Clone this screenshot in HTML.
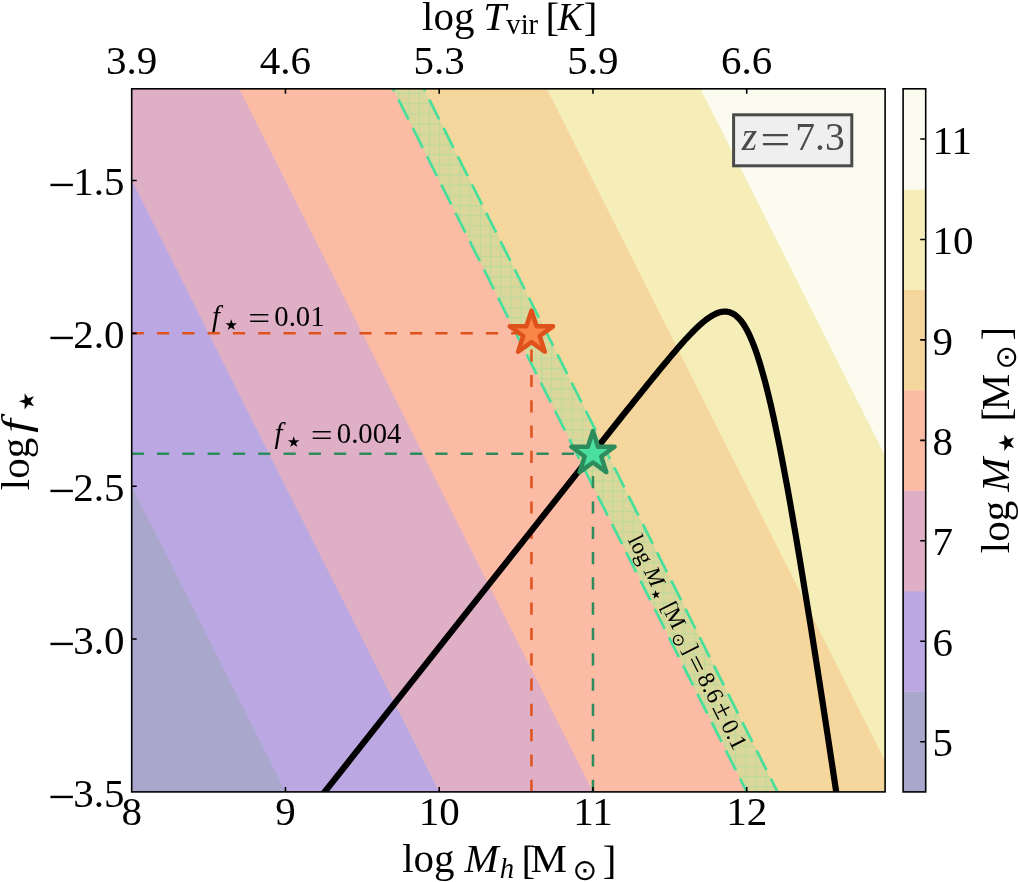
<!DOCTYPE html>
<html lang="en"><head><meta charset="utf-8"><title>Stellar mass plane</title>
<style>html,body{margin:0;padding:0;background:#fff}svg{display:block}text{font-family:"Liberation Serif","DejaVu Serif",serif;fill:#000;font-size:41px}.i{font-style:italic}.sym{font-family:"DejaVu Sans",sans-serif}.an{font-size:28.7px}.bt{font-size:23px}</style></head><body>
<svg width="1018" height="882" viewBox="0 0 1018 882">
<defs><clipPath id="ax"><rect x="131.7" y="88.8" width="753.40" height="703.10"/></clipPath>
<pattern id="hatch" patternUnits="userSpaceOnUse" x="408.4" y="102.9" width="10.2" height="10.2"><path d="M0 0.5H10.2M0.5 0V10.2" stroke="#48de9b" stroke-width="1.1" fill="none" opacity="0.22"/></pattern>
</defs>
<rect width="1018" height="882" fill="#fff"/>
<g clip-path="url(#ax)">
<rect x="131.7" y="88.8" width="753.40" height="703.10" fill="#fbfbef"/>
<polygon fill="#f5eeb9" points="669.84,27.66 1084.98,853.04 -175.81,853.04 -175.81,27.66"/>
<polygon fill="#f5d69c" points="516.09,27.66 931.23,853.04 -175.81,853.04 -175.81,27.66"/>
<polygon fill="#fbbba5" points="362.33,27.66 777.47,853.04 -175.81,853.04 -175.81,27.66"/>
<polygon fill="#dfafc6" points="208.58,27.66 623.72,853.04 -175.81,853.04 -175.81,27.66"/>
<polygon fill="#bba8e3" points="54.82,27.66 469.96,853.04 -175.81,853.04 -175.81,27.66"/>
<polygon fill="#a9a7cc" points="-98.93,27.66 316.21,853.04 -175.81,853.04 -175.81,27.66"/>
<polygon fill="#48de9b" fill-opacity="0.15" points="362.33,27.66 393.08,27.66 808.22,853.04 777.47,853.04"/>
<polygon fill="url(#hatch)" points="362.33,27.66 393.08,27.66 808.22,853.04 777.47,853.04"/>
<path d="M370.10 43.10L777.47 853.04" stroke="#48de9b" stroke-width="2.7" fill="none" stroke-dasharray="22.16 9.51"/>
<path d="M400.85 43.10L808.22 853.04" stroke="#48de9b" stroke-width="2.7" fill="none" stroke-dasharray="22.16 9.51"/>
<path d="M131.7 333.36H531.46" stroke="#e0521b" stroke-width="2.5" stroke-dasharray="12.2 13.1" fill="none"/>
<path d="M531.46 791.9V333.36" stroke="#e0521b" stroke-width="2.5" stroke-dasharray="12.2 13.1" fill="none"/>
<path d="M131.7 453.80H592.97" stroke="#2c8c5c" stroke-width="2.5" stroke-dasharray="12.2 13.1" fill="none"/>
<path d="M592.97 791.9V453.80" stroke="#2c8c5c" stroke-width="2.5" stroke-dasharray="12.2 13.1" fill="none"/>
<path d="M300.8 822.0L347.0 763.7L393.1 705.4L439.2 647.1L485.3 588.9L531.5 530.6L577.6 472.4L623.7 414.3L631.4 404.7L634.1 401.3L636.9 397.9L639.6 394.5L642.3 391.1L645.1 387.7L647.8 384.3L650.6 380.9L653.3 377.5L656.0 374.2L658.8 370.8L661.5 367.5L664.2 364.2L667.0 360.9L669.7 357.6L672.4 354.4L675.2 351.2L677.9 348.0L680.7 344.9L683.4 341.8L686.1 338.8L688.9 335.9L691.6 333.0L694.3 330.3L697.1 327.6L699.8 325.0L702.5 322.6L705.3 320.4L708.0 318.3L710.8 316.5L713.5 314.9L716.2 313.5L719.0 312.5L721.7 311.8L724.4 311.5L727.2 311.7L729.9 312.3L732.6 313.5L735.4 315.2L738.1 317.6L740.9 320.6L743.6 324.4L746.3 328.9L749.1 334.3L751.8 340.4L754.5 347.3L757.3 355.1L760.0 363.7L762.7 373.1L765.5 383.2L768.2 394.1L771.0 405.7L773.7 418.0L776.4 430.9L779.2 444.3L781.9 458.3L784.6 472.7L787.4 487.6L790.1 502.8L792.8 518.4L795.9 536.3L800.5 563.8L805.1 591.9L809.8 620.5L814.4 649.6L819.0 679.1L823.6 708.8L828.2 738.9L832.8 769.2L837.4 799.8L842.0 830.6L846.7 861.6" stroke="#000" stroke-width="6.2" fill="none" stroke-linejoin="round"/>
</g>
<polygon points="531.46,310.66 536.58,326.32 553.05,326.34 539.74,336.04 544.81,351.72 531.46,342.06 518.12,351.72 523.19,336.04 509.87,326.34 526.35,326.32" fill="#f98549" stroke="#e0521b" stroke-width="4.5" stroke-linejoin="round"/>
<polygon points="592.97,431.10 598.08,446.76 614.55,446.79 601.24,456.49 606.31,472.16 592.97,462.50 579.62,472.16 584.69,456.49 571.38,446.79 587.85,446.76" fill="#4ade9f" stroke="#2c8c5c" stroke-width="4.5" stroke-linejoin="round"/>
<rect x="131.7" y="88.8" width="753.40" height="703.10" fill="none" stroke="#000" stroke-width="1.6"/>
<path d="M285.46 791.9v-5M439.21 791.9v-5M592.97 791.9v-5M746.72 791.9v-5M131.7 639.05h5M131.7 486.20h5M131.7 333.36h5M131.7 180.51h5M285.46 88.8v5M439.21 88.8v5M592.97 88.8v5M746.72 88.8v5" stroke="#000" stroke-width="1.6" fill="none"/>
<text x="131.70" y="825" text-anchor="middle">8</text>
<text x="285.46" y="825" text-anchor="middle">9</text>
<text x="439.21" y="825" text-anchor="middle">10</text>
<text x="592.97" y="825" text-anchor="middle">11</text>
<text x="746.72" y="825" text-anchor="middle">12</text>
<text x="131.70" y="74.4" text-anchor="middle">3.9</text>
<text x="285.46" y="74.4" text-anchor="middle">4.6</text>
<text x="439.21" y="74.4" text-anchor="middle">5.3</text>
<text x="592.97" y="74.4" text-anchor="middle">5.9</text>
<text x="746.72" y="74.4" text-anchor="middle">6.6</text>
<text x="124.6" y="806.70" text-anchor="end">3.5</text><text x="47.9" y="812.50" style="font-size:48.4px">−</text>
<text x="124.6" y="653.85" text-anchor="end">3.0</text><text x="47.9" y="659.65" style="font-size:48.4px">−</text>
<text x="124.6" y="501.00" text-anchor="end">2.5</text><text x="47.9" y="506.80" style="font-size:48.4px">−</text>
<text x="124.6" y="348.16" text-anchor="end">2.0</text><text x="47.9" y="353.96" style="font-size:48.4px">−</text>
<text x="124.6" y="195.31" text-anchor="end">1.5</text><text x="47.9" y="201.11" style="font-size:48.4px">−</text>
<rect x="903.1" y="691.46" width="22.60" height="100.74" fill="#a9a7cc"/>
<rect x="903.1" y="591.01" width="22.60" height="100.74" fill="#bba8e3"/>
<rect x="903.1" y="490.57" width="22.60" height="100.74" fill="#dfafc6"/>
<rect x="903.1" y="390.13" width="22.60" height="100.74" fill="#fbbba5"/>
<rect x="903.1" y="289.69" width="22.60" height="100.74" fill="#f5d69c"/>
<rect x="903.1" y="189.24" width="22.60" height="100.74" fill="#f5eeb9"/>
<rect x="903.1" y="88.80" width="22.60" height="100.74" fill="#fbfbef"/>
<rect x="903.1" y="88.8" width="22.60" height="703.10" fill="none" stroke="#000" stroke-width="1.6"/>
<path d="M925.7 741.68h-5.5M925.7 641.24h-5.5M925.7 540.79h-5.5M925.7 440.35h-5.5M925.7 339.91h-5.5M925.7 239.46h-5.5M925.7 139.02h-5.5" stroke="#000" stroke-width="1.6" fill="none"/>
<text x="932.5" y="756.28">5</text>
<text x="932.5" y="655.84">6</text>
<text x="932.5" y="555.39">7</text>
<text x="932.5" y="454.95">8</text>
<text x="932.5" y="354.51">9</text>
<text x="932.5" y="254.06">10</text>
<text x="932.5" y="153.62">11</text>
<rect x="733.6" y="114.8" width="118.2" height="51" fill="#efefef" stroke="#4a4a4a" stroke-width="3"/>
<text y="150.3" style="font-size:39.6px;fill:#4a4a4a"><tspan class="i" x="741.8">z</tspan><tspan x="795.3">7.3</tspan></text>
<text transform="translate(760.22,154.35) scale(1.355,1.1)" style="font-size:39.6px;fill:#4a4a4a">=</text>
<text y="29.6"><tspan x="422.1">log</tspan><tspan class="i" x="483.2">T</tspan><tspan x="506.3" dy="4.7" font-size="28.7">vir</tspan><tspan x="545.6" dy="-3">[</tspan><tspan x="583.8">]</tspan></text><text class="i" transform="translate(557.6,29.6) scale(0.92,1)">K</text>
<text y="871.9"><tspan x="402.2">log</tspan><tspan class="i" x="464.5">M</tspan><tspan class="i" x="499.8" dy="6.5" font-size="28.7">h</tspan><tspan x="521.5" dy="-4.8">[</tspan><tspan x="530.5" dy="-1.7">M</tspan><tspan class="sym" x="572.6" dy="8" font-size="29.5">⊙</tspan><tspan x="602.8" dy="-6.3">]</tspan></text>
<g transform="translate(28.6,490.2) rotate(-90)"><text y="0"><tspan x="0">log</tspan><tspan class="sym" x="79.5" dy="5.5" font-size="21">★</tspan></text><text class="i" transform="translate(57.5,0) scale(1.2,1)">f</text></g>
<g transform="translate(1008.6,552.8) rotate(-90)"><text y="0"><tspan x="-0.4">log</tspan><tspan class="i" x="61.1">M</tspan><tspan class="sym" x="100.4" dy="5.5" font-size="21.8">★</tspan><tspan x="131.2" dy="-3.8">[</tspan><tspan x="142.5" dy="-1.7">M</tspan><tspan class="sym" x="183.3" dy="7" font-size="29">⊙</tspan><tspan x="212.3" dy="-5.3">]</tspan></text></g>
<text class="an" y="325.9"><tspan class="i" x="212">f</tspan><tspan class="sym" x="224.5" dy="4" font-size="15">★</tspan><tspan x="274.3" dy="-4">0.01</tspan></text>
<text transform="translate(248.16,328.83) scale(1.355,1.1)" style="font-size:28.7px;fill:#000">=</text>
<text class="an" y="443.3"><tspan class="i" x="274.5">f</tspan><tspan class="sym" x="287" dy="4" font-size="15">★</tspan><tspan x="336.8" dy="-4">0.004</tspan></text>
<text transform="translate(310.66,446.23) scale(1.355,1.1)" style="font-size:28.7px;fill:#000">=</text>
<g transform="translate(627.53,539.86) rotate(63.30)"><text class="bt" y="0"><tspan x="0">log</tspan><tspan class="i" x="35.5">M</tspan><tspan class="sym" x="56.5" dy="3" font-size="11.5">★</tspan><tspan x="74.5" dy="-3">[</tspan><tspan x="81">M</tspan><tspan class="sym" x="105.3" dy="5" font-size="16.5">⊙</tspan><tspan x="121.8" dy="-5">]</tspan><tspan x="154.3" font-size="24">8.6</tspan><tspan x="187.3" font-size="28">±</tspan><tspan x="206.9" font-size="24">0.1</tspan></text><text transform="translate(133.41,2.40) scale(1.355,1.1)" style="font-size:23.5px;fill:#000">=</text></g>
</svg></body></html>
